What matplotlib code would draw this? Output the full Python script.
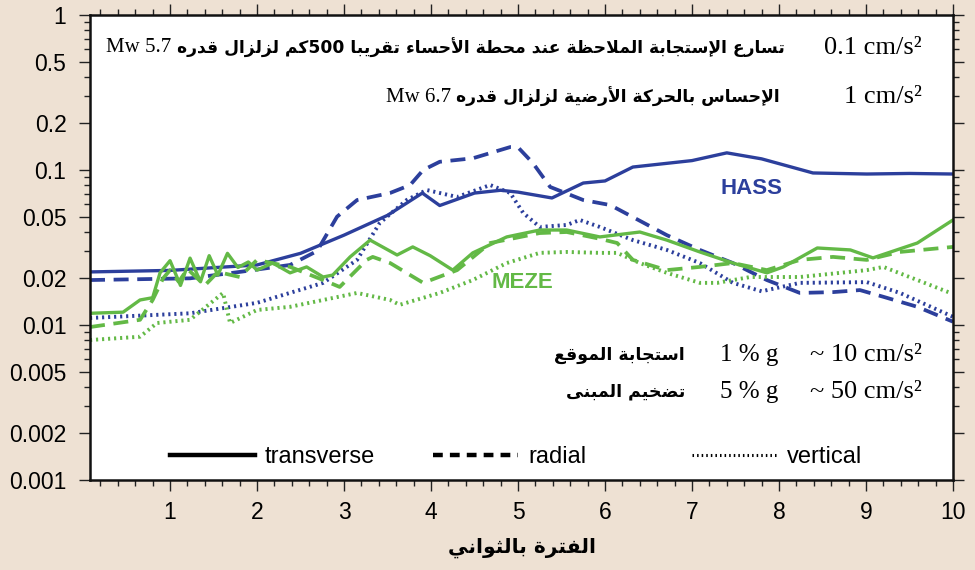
import re
import matplotlib
matplotlib.use("Agg")
import matplotlib.pyplot as plt
from matplotlib.lines import Line2D
from matplotlib import font_manager
from matplotlib.ticker import FixedLocator, NullFormatter, MultipleLocator

# ---------------- data (period in s, acceleration in g) ----------------
hass_trans_x = [0.08, 1.0, 2.0, 2.5, 3.0, 3.5, 3.9, 4.1, 4.5, 4.8, 5.0, 5.39, 5.75, 6.0, 6.32, 7.0, 7.4, 7.8, 8.39, 9.01, 9.5, 10.0]
hass_trans_y = [0.022, 0.0225, 0.0244, 0.029, 0.038, 0.051, 0.071, 0.059, 0.071, 0.074, 0.072, 0.066, 0.0824, 0.085, 0.1045, 0.115, 0.129, 0.118, 0.0957, 0.0942, 0.095, 0.0942]

hass_rad_x = [0.08, 1.23, 1.80, 2.38, 2.69, 2.92, 3.15, 3.53, 3.76, 3.91, 4.10, 4.48, 4.91, 5.0, 5.17, 5.37, 5.75, 6.06, 6.32, 6.71, 7.09, 7.47, 7.86, 8.24, 8.62, 8.93, 9.20, 9.59, 10.0]
hass_rad_y = [0.0195, 0.0200, 0.022, 0.0244, 0.030, 0.050, 0.064, 0.0711, 0.080, 0.100, 0.113, 0.119, 0.1406, 0.14, 0.111, 0.0777, 0.064, 0.0594, 0.0497, 0.038, 0.0305, 0.0251, 0.0195, 0.0161, 0.0163, 0.0168, 0.0152, 0.0131, 0.0105]

hass_vert_x = [0.08, 1.23, 2.0, 2.76, 3.15, 3.41, 3.72, 3.95, 4.30, 4.68, 4.91, 5.06, 5.25, 5.56, 5.71, 5.94, 6.32, 6.71, 7.09, 7.47, 7.80, 8.24, 9.01, 9.39, 10.0]
hass_vert_y = [0.0111, 0.0119, 0.0139, 0.0187, 0.0263, 0.0455, 0.064, 0.0743, 0.067, 0.080, 0.0711, 0.0528, 0.0429, 0.0442, 0.0476, 0.0429, 0.0353, 0.0305, 0.0251, 0.0187, 0.0165, 0.0187, 0.0189, 0.0161, 0.0113]

meze_trans_x = [0.08, 0.46, 0.655, 0.80, 0.885, 1.0, 1.12, 1.23, 1.35, 1.45, 1.55, 1.66, 1.78, 1.9, 2.0, 2.18, 2.38, 2.57, 2.76, 2.87, 3.07, 3.30, 3.61, 3.79, 3.99, 4.25, 4.48, 4.87, 5.25, 5.56, 5.94, 6.40, 6.71, 7.09, 7.47, 7.86, 8.05, 8.44, 8.82, 9.08, 9.59, 10.0]
meze_trans_y = [0.0119, 0.0121, 0.0145, 0.0150, 0.0217, 0.026, 0.018, 0.027, 0.019, 0.028, 0.021, 0.029, 0.0235, 0.0255, 0.0226, 0.0251, 0.0217, 0.0237, 0.0204, 0.021, 0.0275, 0.0353, 0.0283, 0.0319, 0.028, 0.0226, 0.0292, 0.037, 0.041, 0.041, 0.037, 0.0398, 0.0353, 0.0296, 0.0251, 0.0217, 0.0237, 0.0314, 0.0305, 0.0271, 0.0338, 0.0476]

meze_rad_x = [0.08, 0.655, 0.80, 0.92, 1.0, 1.1, 1.2, 1.4, 1.55, 1.80, 2.0, 2.38, 2.76, 2.95, 3.26, 3.33, 3.53, 3.91, 4.30, 4.68, 5.25, 5.56, 5.94, 6.14, 6.32, 6.71, 7.09, 7.47, 7.86, 8.24, 8.62, 9.01, 9.39, 10.0]
meze_rad_y = [0.0097, 0.0108, 0.0145, 0.020, 0.0226, 0.019, 0.023, 0.018, 0.022, 0.0204, 0.0263, 0.0237, 0.0195, 0.0176, 0.0263, 0.0275, 0.0251, 0.0187, 0.0226, 0.0338, 0.0392, 0.0398, 0.036, 0.0338, 0.0263, 0.0226, 0.0237, 0.0251, 0.0226, 0.0263, 0.0275, 0.0263, 0.0296, 0.0319]

meze_vert_x = [0.08, 0.655, 0.85, 1.23, 1.61, 1.69, 2.0, 2.38, 2.76, 3.15, 3.53, 3.64, 4.10, 4.48, 4.87, 5.25, 5.56, 5.94, 6.14, 6.40, 6.71, 7.09, 7.29, 7.67, 8.24, 9.01, 9.20, 9.59, 9.97]
meze_vert_y = [0.0080, 0.0084, 0.0103, 0.0108, 0.0161, 0.0103, 0.0125, 0.0131, 0.0145, 0.0161, 0.0145, 0.0135, 0.0161, 0.0195, 0.0251, 0.0292, 0.0296, 0.0292, 0.0292, 0.0251, 0.0217, 0.0187, 0.0187, 0.0204, 0.0204, 0.0226, 0.0237, 0.0195, 0.0161]

x_ticks = [1, 2, 3, 4, 5, 6, 7, 8, 9, 10]
y_ticks = [0.001, 0.002, 0.005, 0.01, 0.02, 0.05, 0.1, 0.2, 0.5, 1]
y_tick_labels = ["0.001", "0.002", "0.005", "0.01", "0.02", "0.05", "0.1", "0.2", "0.5", "1"]
legend_labels = ["transverse", "radial", "vertical"]

title_line1 = "تسارع الإستجابة الملاحظة عند محطة الأحساء تقريبا 500كم لزلزال قدره"
title_line1_mw = "Mw 5.7"
title_line1_val = "0.1 cm/s²"
title_line2 = "الإحساس بالحركة الأرضية لزلزال قدره"
title_line2_mw = "Mw 6.7"
title_line2_val = "1 cm/s²"
note1_ar, note1_g, note1_val = "استجابة الموقع", "1 % g", "~ 10 cm/s²"
note2_ar, note2_g, note2_val = "تضخيم المبنى", "5 % g", "~ 50 cm/s²"
x_label = "الفترة بالثواني"

# ---------------- Arabic shaping (presentation forms, visual order) ----------------
BASE = {'ء': 0xFE80, 'آ': 0xFE81, 'أ': 0xFE83, 'ؤ': 0xFE85, 'إ': 0xFE87, 'ئ': 0xFE89, 'ا': 0xFE8D,
        'ب': 0xFE8F, 'ة': 0xFE93, 'ت': 0xFE95, 'ث': 0xFE99, 'ج': 0xFE9D, 'ح': 0xFEA1, 'خ': 0xFEA5,
        'د': 0xFEA9, 'ذ': 0xFEAB, 'ر': 0xFEAD, 'ز': 0xFEAF, 'س': 0xFEB1, 'ش': 0xFEB5, 'ص': 0xFEB9,
        'ض': 0xFEBD, 'ط': 0xFEC1, 'ظ': 0xFEC5, 'ع': 0xFEC9, 'غ': 0xFECD, 'ف': 0xFED1, 'ق': 0xFED5,
        'ك': 0xFED9, 'ل': 0xFEDD, 'م': 0xFEE1, 'ن': 0xFEE5, 'ه': 0xFEE9, 'و': 0xFEED, 'ى': 0xFEEF,
        'ي': 0xFEF1}
DUAL = set('بتثجحخسشصضطظعغفقكلمنهيئ')
LAMALEF = {'آ': 0xFEF5, 'أ': 0xFEF7, 'إ': 0xFEF9, 'ا': 0xFEFB}


def is_ar(ch):
    return '\u0600' <= ch <= '\u06FF'


def shape(w):
    units, i = [], 0
    while i < len(w):
        c = w[i]
        if c == 'ل' and i + 1 < len(w) and w[i + 1] in LAMALEF:
            units.append(('LA', w[i + 1]))
            i += 2
        else:
            units.append(c)
            i += 1

    def dual(u):
        return isinstance(u, str) and u in DUAL

    def joins(u):
        return isinstance(u, tuple) or (u in BASE and u != 'ء')

    out = []
    for k, u in enumerate(units):
        jp = k > 0 and dual(units[k - 1]) and joins(u)
        jn = k + 1 < len(units) and dual(u) and joins(units[k + 1])
        if isinstance(u, tuple):
            b = LAMALEF[u[1]]
            out.append(chr(b + 1 if jp else b))
        elif u not in BASE:
            out.append(u)
        elif dual(u):
            off = {(False, False): 0, (True, False): 1, (False, True): 2, (True, True): 3}[(jp, jn)]
            out.append(chr(BASE[u] + off))
        else:
            out.append(chr(BASE[u] + (1 if jp else 0)))
    return ''.join(out)


def vis_word(w):
    runs = re.findall(r'[\u0600-\u06FF]+|[^\u0600-\u06FF]+', w)
    return ''.join(shape(r)[::-1] if is_ar(r[0]) else r for r in reversed(runs))


def visual(text):
    groups = []
    for w in text.split(' '):
        ltr = not any(is_ar(c) for c in w)
        if ltr and groups and groups[-1][0]:
            groups[-1][1].append(w)
        else:
            groups.append((ltr, [w]))
    out = []
    for ltr, ws in reversed(groups):
        out.append(' '.join(ws) if ltr else vis_word(ws[0]))
    return ' '.join(out)


# ---------------- style ----------------
available = {f.name for f in font_manager.fontManager.ttflist}
SANS = 'Liberation Sans'
NARROW = 'Liberation Sans Narrow' if 'Liberation Sans Narrow' in available else 'Liberation Sans'
SERIF = 'Liberation Serif'
ARABIC = 'DejaVu Sans'

BLUE = '#2c3f9c'
GREEN = '#63b946'
BG = '#eee1d3'

W, H = 975, 570
fig = plt.figure(figsize=(W / 100, H / 100), dpi=100, facecolor=BG)
ax = fig.add_axes([90 / W, 1 - 480 / H, (953 - 90) / W, (480 - 15) / H])
ax.set_facecolor('white')

def fx(px):
    return px / W

def fy(py):
    return 1 - py / H

lw_s, lw_d, lw_v = 2.4, 2.7, 2.8
ax.plot(hass_trans_x, hass_trans_y, color=BLUE, lw=lw_s, solid_joinstyle='round')
ax.plot(hass_rad_x, hass_rad_y, color=BLUE, lw=lw_d, linestyle=(0, (4.0, 2.3)))
ax.plot(hass_vert_x, hass_vert_y, color=BLUE, lw=lw_v, linestyle=(0, (0.55, 1.0)))
ax.plot(meze_trans_x, meze_trans_y, color=GREEN, lw=lw_s, solid_joinstyle='round')
ax.plot(meze_rad_x, meze_rad_y, color=GREEN, lw=lw_d, linestyle=(0, (4.0, 2.3)))
ax.plot(meze_vert_x, meze_vert_y, color=GREEN, lw=lw_v, linestyle=(0, (0.55, 1.0)))

ax.set_yscale('log')
ax.set_xlim(0.08, 10)
ax.set_ylim(0.001, 1)

ax.xaxis.set_major_locator(FixedLocator(x_ticks))
ax.xaxis.set_minor_locator(MultipleLocator(0.2))
ax.set_xticklabels([str(t) for t in x_ticks])
ax.yaxis.set_major_locator(FixedLocator(y_ticks))
ax.set_yticklabels(y_tick_labels)
minor_y = [m * 10.0 ** e for e in (-3, -2, -1) for m in (3, 4, 6, 7, 8, 9)]
ax.yaxis.set_minor_locator(FixedLocator(minor_y))
ax.yaxis.set_minor_formatter(NullFormatter())

ax.tick_params(which='both', direction='out', top=True, right=True, width=1.0, color='#222222')
ax.tick_params(which='major', length=8, labelsize=16.5)
ax.tick_params(axis='x', which='major', pad=7)
ax.tick_params(axis='y', which='major', pad=9)
ax.tick_params(which='minor', length=4.5)
for lab in ax.get_xticklabels() + ax.get_yticklabels():
    lab.set_fontfamily(SANS)
for s in ax.spines.values():
    s.set_linewidth(1.8)
    s.set_color('#111111')

ax.set_xlabel(visual(x_label), fontsize=14.5, fontweight='bold', family=ARABIC, labelpad=10)

# ---------------- annotations ----------------
t1 = fig.text(fx(785), fy(48), visual(title_line1), ha='right', va='center', fontsize=12.3,
              fontweight='bold', family=ARABIC)
ax.annotate(title_line1_mw, xy=(0, 0.5), xycoords=t1, xytext=(-4, 0), textcoords='offset points',
            ha='right', va='center', fontsize=15, family=SERIF)
fig.text(fx(922), fy(48), title_line1_val, ha='right', va='center', fontsize=19, family=SERIF)

t2 = fig.text(fx(780), fy(97), visual(title_line2), ha='right', va='center', fontsize=12.3,
              fontweight='bold', family=ARABIC)
ax.annotate(title_line2_mw, xy=(0, 0.5), xycoords=t2, xytext=(-4, 0), textcoords='offset points',
            ha='right', va='center', fontsize=15, family=SERIF)
fig.text(fx(922), fy(97), title_line2_val, ha='right', va='center', fontsize=19, family=SERIF)

for py, ar, g, val in [(355, note1_ar, note1_g, note1_val), (392, note2_ar, note2_g, note2_val)]:
    fig.text(fx(685), fy(py), visual(ar), ha='right', va='center', fontsize=12.5, fontweight='bold', family=ARABIC)
    fig.text(fx(778), fy(py), g, ha='right', va='center', fontsize=18, family=SERIF)
    fig.text(fx(922), fy(py), val, ha='right', va='center', fontsize=19, family=SERIF)

ax.text(7.68, 0.0765, 'HASS', color=BLUE, fontsize=16, fontweight='bold', family=SANS, ha='center', va='center')
ax.text(5.05, 0.0187, 'MEZE', color=GREEN, fontsize=16, fontweight='bold', family=SANS, ha='center', va='center')

# ---------------- legend ----------------
handles = [Line2D([], [], color='black', lw=3.2),
           Line2D([], [], color='black', lw=3.2, linestyle=(0, (2.2, 1.6))),
           Line2D([], [], color='black', lw=2.2, linestyle=(0, (0.5, 1.0)))]
starts = [170, 433, 692]
for h, lab, sx in zip(handles, legend_labels, starts):
    fig.legend([h], [lab], loc='center left', bbox_to_anchor=(fx(sx), fy(457)), frameon=False,
               borderpad=0, borderaxespad=0, handlelength=3.6, handletextpad=0.42,
               prop={'family': NARROW, 'size': 17})

fig.savefig('out.png', dpi=100, facecolor=BG)
